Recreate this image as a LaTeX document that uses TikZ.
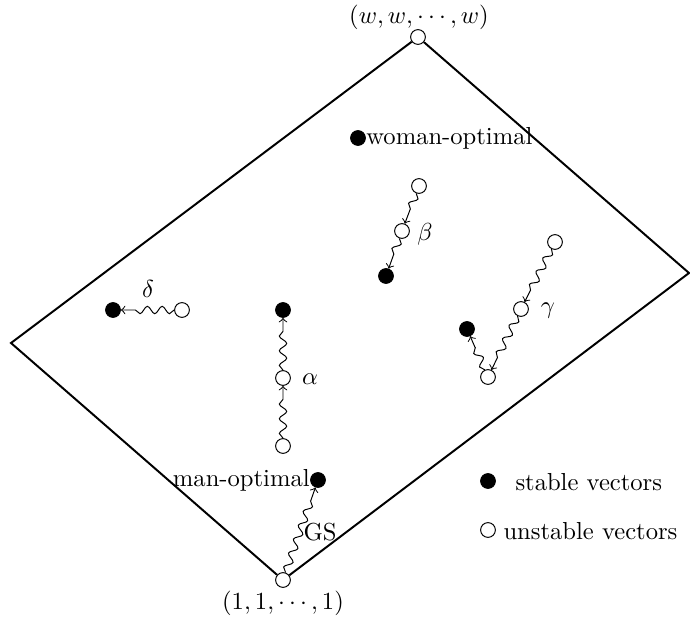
\documentclass[tikz,border=0pt]{standalone}
\usetikzlibrary{decorations.pathmorphing}
\begin{document}
\begin{tikzpicture}[x=0.4065pt,y=-0.4065pt,
  stab/.style={circle,fill=black,draw=black,inner sep=0pt,minimum size=6pt},
  unst/.style={circle,fill=white,draw=black,line width=0.4pt,inner sep=0pt,minimum size=6pt},
  wig/.style={->,line width=0.4pt,decorate,decoration={snake,amplitude=1.5pt,segment length=6pt,post length=3.5pt}},
  frame/.style={line width=0.8pt},
  lab/.style={inner sep=0pt}]
\useasboundingbox (0,0) rectangle (690,623);
% corners
\coordinate (L) at (11,343);
\coordinate (R) at (689,273);
\node[unst] (T) at (418,37) {};
\node[unst] (B) at (283,580) {};
\draw[frame] (B) -- (L) -- (T) -- (R) -- (B);
\node[lab] (Tl) at (419,17) {$(w,w,\cdots,w)$};
\node[lab] (Bl) at (283,603) {$(1,1,\cdots,1)$};
% woman-optimal
\node[stab] (W) at (358,138) {};
\node[lab,anchor=west] (Wl) at (W.east) {woman-optimal};
% man-optimal and GS
\node[stab] (M) at (318,480) {};
\node[lab,anchor=east] (Ml) at (M.west) {man-optimal};
\draw[wig] (B) -- (M);
\node[lab] (GS) at (320,532) {GS};
% beta
\node[unst] (b1) at (419,186) {};
\node[unst] (b2) at (402,231) {};
\node[stab] (b3) at (386,276) {};
\draw[wig] (b1) -- (b2);
\draw[wig] (b2) -- (b3);
\node[lab] (bl) at (425,234) {$\beta$};
% gamma
\node[unst] (g1) at (555,242) {};
\node[unst] (g2) at (521,309) {};
\node[unst] (g3) at (488,377) {};
\node[stab] (g4) at (467,329) {};
\draw[wig] (g1) -- (g2);
\draw[wig] (g2) -- (g3);
\draw[wig] (g3) -- (g4);
\node[lab] (gl) at (548,311) {$\gamma$};
% alpha
\node[stab] (a1) at (283,310) {};
\node[unst] (a2) at (283,378) {};
\node[unst] (a3) at (283,446) {};
\draw[wig] (a3) -- (a2);
\draw[wig] (a2) -- (a1);
\node[lab] (al) at (310,379) {$\alpha$};
% delta
\node[stab] (d1) at (113,310) {};
\node[unst] (d2) at (182,310) {};
\draw[wig] (d2) -- (d1);
\node[lab] (dl) at (148,289) {$\delta$};
% legend
\node[stab] (ls) at (488,481) {};
\node[lab,anchor=west] (lst) at (515,482) {stable vectors};
\node[unst] (lu) at (488,530) {};
\node[lab,anchor=west] (lut) at (503,531) {unstable vectors};
\end{tikzpicture}
\end{document}
